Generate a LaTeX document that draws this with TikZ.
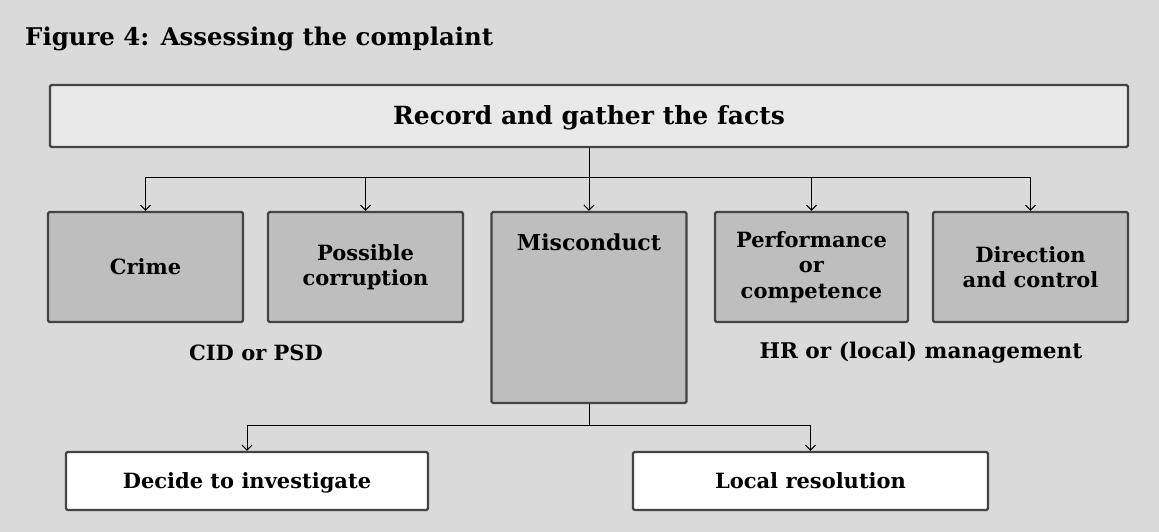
\documentclass[tikz,border=0pt]{standalone}
\usepackage{fontspec}
\setmainfont{DejaVu Serif}
\usetikzlibrary{arrows.meta}
\definecolor{bgc}{HTML}{DADADA}
\definecolor{topc}{HTML}{E9E9E9}
\definecolor{midc}{HTML}{BEBEBE}
\definecolor{edgec}{HTML}{444444}
\newcommand{\txtsz}{\fontsize{21}{25.5}\selectfont\bfseries}
\newcommand{\bigsz}{\fontsize{25}{29}\selectfont\bfseries}
\newcommand{\titlesz}{\fontsize{24.4}{29}\selectfont\bfseries}
\tikzset{
  x=1pt, y=-1pt,
  boxbase/.style={draw=edgec, line width=2.4pt, rounded corners=1.5pt, align=center, font=\txtsz, inner sep=0pt},
  topbox/.style={boxbase, fill=topc, font=\bigsz, minimum width=1078pt, minimum height=62pt, text height=18pt, text depth=0pt},
  catbox/.style={boxbase, fill=midc, minimum width=195pt, minimum height=110pt},
  outbox/.style={boxbase, fill=white, minimum height=58pt, text height=15.3pt, text depth=0pt},
  grouplabel/.style={font=\txtsz, inner sep=0pt},
  conn/.style={line width=1pt, black},
  arr/.style={conn, -{Straight Barb[length=5pt,width=10pt]}},
}
\begin{document}
\begin{tikzpicture}
\fill[bgc] (0,0) rectangle (1159,532);
\useasboundingbox (0,0) rectangle (1159,532);
\node[anchor=base west, font=\titlesz, inner sep=0pt] (title) at (25,46) {Figure 4: Assessing the complaint};
\node[topbox] (top) at (589,116) {Record and gather the facts};
\node[catbox] (crime) at (145.5,267) {Crime};
\node[catbox] (corr) at (365.5,267) {Possible\\corruption};
\node[catbox, minimum height=191pt] (misc) at (589,307.5) {};
\node[anchor=base, font=\fontsize{22}{26}\selectfont\bfseries, inner sep=0pt] (misct) at (589,250) {Misconduct};
\node[catbox, minimum width=193pt] (perf) at (811.5,267) {Performance\\or\\competence};
\node[catbox] (dir) at (1030.5,267) {Direction\\and control};
\node[grouplabel] (cid) at (256,353) {CID or PSD};
\node[grouplabel, font=\fontsize{21.6}{26}\selectfont\bfseries] (hr) at (921,353) {HR or (local) management};
\node[outbox, minimum width=362pt] (decide) at (247,481) {Decide to investigate};
\node[outbox, minimum width=355pt] (local) at (810.5,481) {Local resolution};
\coordinate (bus) at (0,177);
\coordinate (bus2) at (0,425);
\draw[conn] (crime.north |- bus) -- (dir.north |- bus);
\draw[arr] (top.south) -- (misc.north);
\draw[arr] (crime.north |- bus) -- (crime.north);
\draw[arr] (corr.north |- bus) -- (corr.north);
\draw[arr] (perf.north |- bus) -- (perf.north);
\draw[arr] (dir.north |- bus) -- (dir.north);
\draw[conn] (misc.south) -- (misc.south |- bus2);
\draw[conn] (decide.north |- bus2) -- (local.north |- bus2);
\draw[arr] (decide.north |- bus2) -- (decide.north);
\draw[arr] (local.north |- bus2) -- (local.north);
\end{tikzpicture}
\end{document}
